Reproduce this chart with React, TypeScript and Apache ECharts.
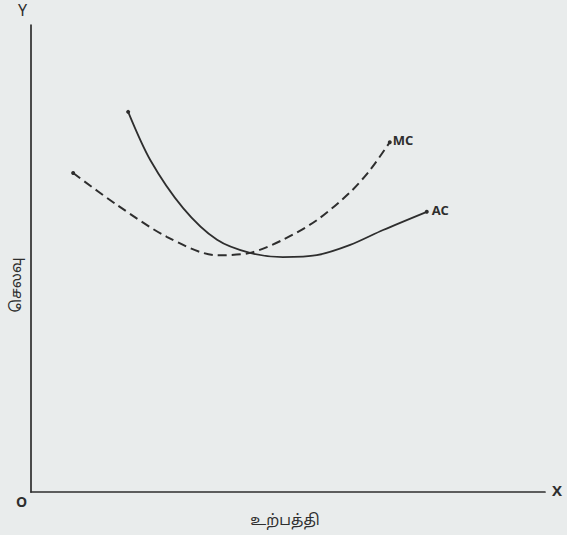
import React, { useEffect, useRef } from "react";
import * as echarts from "echarts";

const mcX = [8.2, 16.7, 26.5, 36.2, 42.6, 49.0, 55.6, 62.1, 66.0, 69.8];
const mcY = [68.3, 61.5, 54.6, 50.7, 51.2, 54.0, 58.2, 64.2, 69.0, 74.9];
const acX = [18.9, 23.2, 29.6, 36.2, 42.6, 49.0, 55.6, 62.1, 68.5, 77.0];
const acY = [81.4, 71.1, 60.8, 54.0, 51.2, 50.3, 50.7, 52.9, 56.1, 60.0];
const xLabel = "உற்பத்தி";
const yLabel = "செலவு";

const INK = "#2e2e2e";
const FONT = "'Noto Sans Tamil', 'Noto Sans', Lato, sans-serif";

function toData(xs: number[], ys: number[]) {
  return xs.map((x, i) => {
    const end = i === 0 || i === xs.length - 1;
    return {
      value: [x, ys[i]],
      symbol: end ? "circle" : "none",
      symbolSize: end ? 4 : 0,
    };
  });
}

export default function App() {
  const ref = useRef<HTMLDivElement>(null);
  useEffect(() => {
    if (!ref.current) return;
    const chart = echarts.init(ref.current, undefined, { renderer: "svg" });
    chart.setOption({
      animation: false,
      backgroundColor: "#e9ecec",
      grid: { left: 31, right: 22, top: 25, bottom: 43, containLabel: false },
      xAxis: {
        type: "value",
        min: 0,
        max: 100,
        name: "X",
        nameLocation: "end",
        nameGap: 7,
        nameTextStyle: { color: INK, fontSize: 15, fontFamily: FONT, fontWeight: "bold" },
        axisLine: { show: true, lineStyle: { color: INK, width: 1.7 } },
        axisTick: { show: false },
        axisLabel: { show: false },
        splitLine: { show: false },
      },
      yAxis: {
        type: "value",
        min: 0,
        max: 100,
        name: "Y",
        nameLocation: "end",
        nameGap: 5,
        nameTextStyle: { color: INK, fontSize: 16, fontFamily: FONT, align: "right", padding: [0, 4, 0, 0] },
        axisLine: { show: true, lineStyle: { color: INK, width: 1.7 } },
        axisTick: { show: false },
        axisLabel: { show: false },
        splitLine: { show: false },
      },
      series: [
        {
          name: "MC",
          type: "line",
          smooth: 0.3,
          data: toData(mcX, mcY),
          itemStyle: { color: INK },
          lineStyle: { color: INK, width: 2, type: [9, 5] },
          endLabel: {
            show: true,
            formatter: "{a}",
            color: INK,
            fontSize: 13,
            fontWeight: "bold",
            fontFamily: FONT,
            distance: 3,
          },
        },
        {
          name: "AC",
          type: "line",
          smooth: 0.3,
          data: toData(acX, acY),
          itemStyle: { color: INK },
          lineStyle: { color: INK, width: 1.8 },
          endLabel: {
            show: true,
            formatter: "{a}",
            color: INK,
            fontSize: 13,
            fontWeight: "bold",
            fontFamily: FONT,
            distance: 5,
          },
        },
      ],
      graphic: [
        {
          type: "text",
          left: 16,
          top: 496,
          style: { text: "O", fill: INK, font: `bold 14px ${FONT}` },
        },
        {
          type: "text",
          x: 285,
          y: 521,
          style: { text: xLabel, fill: INK, font: `15px ${FONT}`, align: "center", verticalAlign: "middle" },
        },
        {
          type: "text",
          x: 17,
          y: 285,
          rotation: Math.PI / 2,
          style: { text: yLabel, fill: INK, font: `15px ${FONT}`, align: "center", verticalAlign: "middle" },
        },
      ],
    });
    return () => chart.dispose();
  }, []);
  return (
    <div
      ref={ref}
      style={{ position: "fixed", left: 0, top: 0, width: 567, height: 535 }}
    />
  );
}
